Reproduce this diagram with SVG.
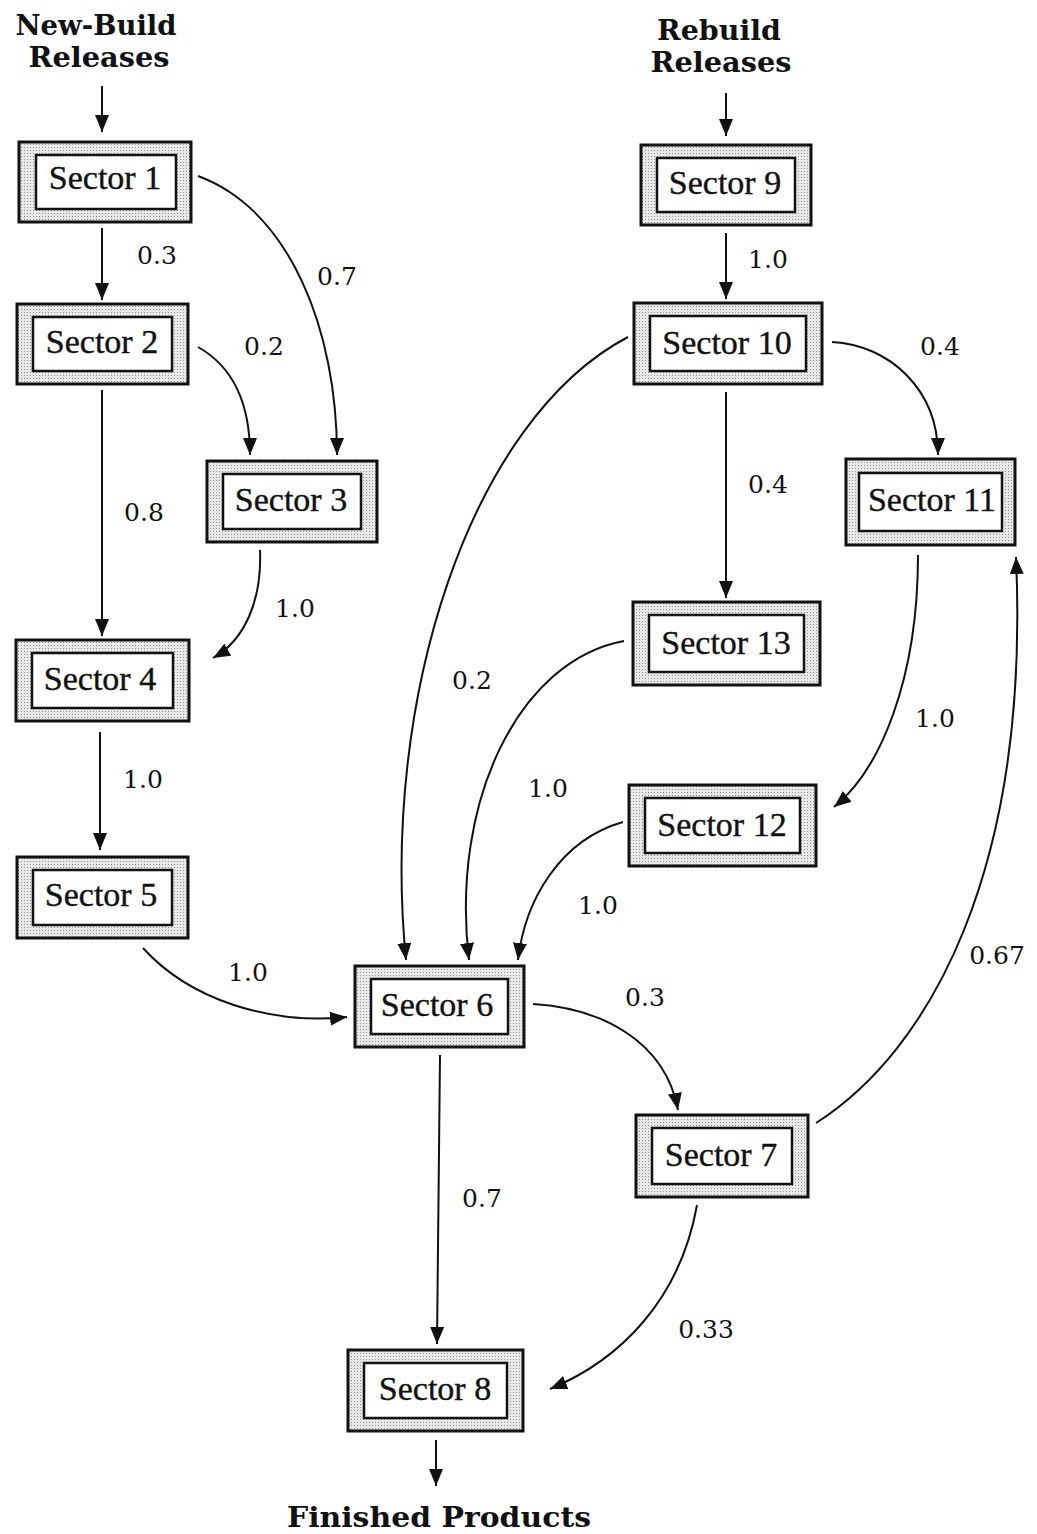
<svg xmlns="http://www.w3.org/2000/svg" width="1037" height="1534" viewBox="0 0 1037 1534">
<defs>
<pattern id="dots" width="3" height="3" patternUnits="userSpaceOnUse">
<rect width="3" height="3" fill="#e8e8e8"/>
<rect width="1" height="1" fill="#909090"/>
</pattern>
<marker id="ah" markerWidth="18" markerHeight="14" refX="17" refY="7" orient="auto" markerUnits="userSpaceOnUse">
<path d="M0,0 L17,7 L0,14 z" fill="#111"/>
</marker>
</defs>
<style>
.outer{fill:url(#dots);stroke:#111;stroke-width:3}
.inner{fill:#fff;stroke:#111;stroke-width:2.5}
.nt{font-family:"Liberation Serif","DejaVu Serif",serif;font-size:34px;fill:#111;stroke:#111;stroke-width:0.4;text-anchor:middle}
.lb{font-family:"DejaVu Serif","Liberation Serif",serif;font-size:25px;fill:#111;text-anchor:middle}
.tt{font-family:"DejaVu Serif","Liberation Serif",serif;font-size:27px;font-weight:bold;fill:#111;text-anchor:middle}
.c{fill:none;stroke:#111;stroke-width:2;marker-end:url(#ah)}
</style>
<rect width="1037" height="1534" fill="#fff"/>

<g id="titles">
<text class="tt" x="96" y="35" textLength="161" lengthAdjust="spacingAndGlyphs">New-Build</text>
<text class="tt" x="99" y="67" textLength="141" lengthAdjust="spacingAndGlyphs">Releases</text>
<text class="tt" x="719" y="40" textLength="124" lengthAdjust="spacingAndGlyphs">Rebuild</text>
<text class="tt" x="721" y="72" textLength="141" lengthAdjust="spacingAndGlyphs">Releases</text>
<text class="tt" x="439" y="1527" textLength="304" lengthAdjust="spacingAndGlyphs">Finished Products</text>
</g>

<g id="s1"><rect class="outer" x="19" y="142" width="172" height="80"/><rect class="inner" x="36" y="155" width="140" height="54"/><text class="nt" x="105" y="189">Sector 1</text></g>
<g id="s2"><rect class="outer" x="17" y="304" width="171" height="80"/><rect class="inner" x="33" y="317" width="139" height="54"/><text class="nt" x="102" y="353">Sector 2</text></g>
<g id="s3"><rect class="outer" x="207" y="461" width="170" height="81"/><rect class="inner" x="223" y="474" width="138" height="55"/><text class="nt" x="291" y="511">Sector 3</text></g>
<g id="s4"><rect class="outer" x="16" y="640" width="173" height="81"/><rect class="inner" x="32" y="653" width="141" height="55"/><text class="nt" x="100" y="690">Sector 4</text></g>
<g id="s5"><rect class="outer" x="17" y="857" width="171" height="81"/><rect class="inner" x="33" y="870" width="139" height="55"/><text class="nt" x="101" y="906">Sector 5</text></g>
<g id="s6"><rect class="outer" x="355" y="966" width="169" height="81"/><rect class="inner" x="371" y="979" width="137" height="55"/><text class="nt" x="437" y="1016">Sector 6</text></g>
<g id="s7"><rect class="outer" x="636" y="1115" width="172" height="82"/><rect class="inner" x="652" y="1128" width="140" height="56"/><text class="nt" x="721" y="1166">Sector 7</text></g>
<g id="s8"><rect class="outer" x="348" y="1350" width="175" height="81"/><rect class="inner" x="364" y="1363" width="143" height="55"/><text class="nt" x="435" y="1400">Sector 8</text></g>
<g id="s9"><rect class="outer" x="641" y="145" width="170" height="80"/><rect class="inner" x="657" y="158" width="138" height="54"/><text class="nt" x="725" y="194">Sector 9</text></g>
<g id="s10"><rect class="outer" x="634" y="303" width="188" height="81"/><rect class="inner" x="650" y="316" width="156" height="55"/><text class="nt" x="727" y="354">Sector 10</text></g>
<g id="s11"><rect class="outer" x="846" y="459" width="169" height="86"/><rect class="inner" x="859" y="473" width="143" height="58"/><text class="nt" x="932" y="511">Sector 11</text></g>
<g id="s12"><rect class="outer" x="629" y="785" width="187" height="81"/><rect class="inner" x="645" y="798" width="155" height="55"/><text class="nt" x="722" y="836">Sector 12</text></g>
<g id="s13"><rect class="outer" x="633" y="602" width="187" height="83"/><rect class="inner" x="649" y="615" width="155" height="57"/><text class="nt" x="726" y="654">Sector 13</text></g>

<g id="connectors">
<path class="c" d="M102,86 L102,132"/>
<path class="c" d="M102,228 L102,300"/>
<path class="c" d="M198,176 C290,210 337,330 337,455"/>
<path class="c" d="M198,347 C230,365 250,400 250,455"/>
<path class="c" d="M102,390 L102,636"/>
<path class="c" d="M260,550 C262,600 245,640 213,658"/>
<path class="c" d="M100,732 L100,850"/>
<path class="c" d="M143,948 C190,1000 270,1025 347,1017"/>
<path class="c" d="M726,93 L726,136"/>
<path class="c" d="M726,233 L726,299"/>
<path class="c" d="M832,342 C890,345 938,390 938,455"/>
<path class="c" d="M726,392 L726,598"/>
<path class="c" d="M628,337 C470,420 380,700 406,960"/>
<path class="c" d="M624,641 C520,660 450,800 469,960"/>
<path class="c" d="M918,555 C918,680 880,770 834,807"/>
<path class="c" d="M623,822 C560,840 525,900 518,960"/>
<path class="c" d="M533,1004 C600,1008 665,1040 678,1110"/>
<path class="c" d="M440,1055 L437,1344"/>
<path class="c" d="M816,1123 C930,1050 1030,870 1016,557"/>
<path class="c" d="M697,1205 C680,1300 620,1360 550,1389"/>
<path class="c" d="M436,1440 L436,1486"/>
</g>

<g id="labels">
<text class="lb" x="157" y="264">0.3</text>
<text class="lb" x="337" y="285">0.7</text>
<text class="lb" x="264" y="355">0.2</text>
<text class="lb" x="144" y="521">0.8</text>
<text class="lb" x="295" y="617">1.0</text>
<text class="lb" x="143" y="788">1.0</text>
<text class="lb" x="248" y="981">1.0</text>
<text class="lb" x="768" y="268">1.0</text>
<text class="lb" x="940" y="355">0.4</text>
<text class="lb" x="768" y="493">0.4</text>
<text class="lb" x="472" y="689">0.2</text>
<text class="lb" x="548" y="797">1.0</text>
<text class="lb" x="935" y="727">1.0</text>
<text class="lb" x="598" y="914">1.0</text>
<text class="lb" x="645" y="1006">0.3</text>
<text class="lb" x="482" y="1207">0.7</text>
<text class="lb" x="997" y="964">0.67</text>
<text class="lb" x="706" y="1338">0.33</text>
</g>
</svg>
